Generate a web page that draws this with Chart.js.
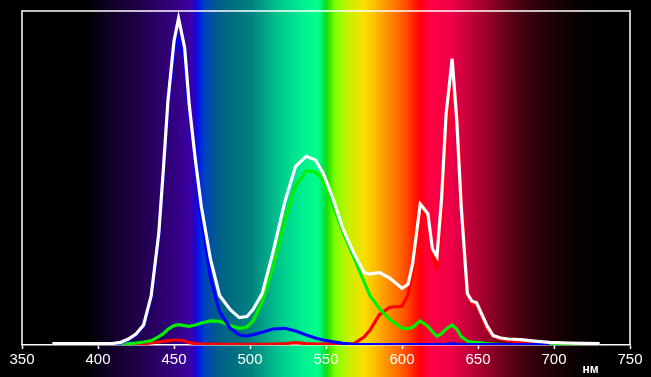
<!DOCTYPE html>
<html>
<head>
<meta charset="utf-8">
<script src="https://cdn.jsdelivr.net/npm/chart.js@4"></script>
<style>
  html, body { margin: 0; padding: 0; background: #000; }
  #wrap { width: 651px; height: 377px; }
</style>
</head>
<body>
<div id="wrap"><canvas id="spectrum"></canvas></div>
<script>
// wavelength, nm
const wavelengths = [370, 380, 390, 400, 410, 415, 420, 425, 430, 435, 440, 443, 446, 450, 453, 457, 460, 464, 468, 474,
  480, 487, 493, 498, 502, 508, 515, 523, 530, 537, 543, 548, 554, 561, 568, 575, 579, 585, 592, 600,
  604, 607, 612, 617, 620, 623, 626, 629, 633, 636, 639, 643, 646, 649, 656, 660, 665, 670, 678, 689,
  697, 710, 720, 730];

const whiteVals = [0.4, 0.4, 0.4, 0.4, 0.5, 0.8, 1.8, 3.3, 6, 14.8, 33.5, 52.6, 73, 91, 97.8, 89, 72, 55.6, 41.4, 25.7,
  14.8, 10.6, 8.2, 8.5, 10.6, 15.4, 27.5, 43, 53.5, 56.5, 55.4, 51.6, 44.6, 35, 27.8, 21.7, 21.2, 21.7, 20, 17,
  18.2, 24.3, 42.2, 39.3, 28.8, 26.5, 43.6, 69, 85.7, 67.6, 41, 15.4, 13.1, 12.7, 5.7, 2.8, 2.1, 1.8, 1.6, 1.1,
  0.8, 0.6, 0.5, 0.4];

const greenVals = [0.1, 0.1, 0.1, 0.1, 0.1, 0.2, 0.4, 0.6, 0.9, 1.3, 2.5, 3.4, 4.7, 5.8, 6.1, 5.8, 5.6, 6.0, 6.6, 7.2,
  7.1, 5.8, 5.0, 5.4, 7.2, 13, 23, 37.5, 47.5, 52.2, 51.8, 49.5, 42.5, 34, 26.5, 19, 14.7, 11, 7.6, 5,
  4.9, 5.3, 7.2, 5.6, 4, 2.6, 3.4, 4.8, 6, 4.8, 2.5, 1.2, 0.9, 0.8, 0.4, 0.3, 0.2, 0.1, 0.1, 0.1,
  0.1, 0.1, 0.1, 0.1];

const blueVals = [0.2, 0.2, 0.2, 0.2, 0.3, 0.6, 1.5, 3, 5.7, 14, 32.5, 51.5, 71.5, 87, 92, 85, 70, 54, 38, 20,
  10, 5, 3, 2.7, 3.1, 3.8, 4.8, 5, 4.2, 3, 2.1, 1.5, 1, 0.5, 0.2, 0.15, 0.15, 0.15, 0.15, 0.15,
  0.15, 0.15, 0.15, 0.15, 0.15, 0.15, 0.15, 0.2, 0.4, 0.2, 0.15, 0.15, 0.15, 0.15, 0.15, 0.15, 0.15, 0.15, 0.15, 0.15,
  0.15, null, null, null];

const redVals = [0.1, 0.1, 0.1, 0.1, 0.1, 0.1, 0.2, 0.3, 0.4, 0.6, 0.9, 1.1, 1.3, 1.5, 1.5, 1.2, 0.7, 0.4, 0.3, 0.3,
  0.2, 0.2, 0.2, 0.2, 0.2, 0.2, 0.3, 0.4, 0.7, 0.4, 0.3, 0.3, 0.3, 0.3, 0.3, 2.4, 4.5, 9, 11.3, 11.6,
  15, 22, 41, 37.5, 26.5, 23.5, 37.8, 62, 83.5, 70, 45, 15.2, 12.4, 12.2, 4.6, 2.6, 1.8, 1.3, 0.9, 0.6,
  0.4, 0.3, 0.2, 0.2];

const xTicks = { min: 350, max: 750, step: 50 };
const unitLabel = 'нм';

// background spectrum colours [nm, colour]
const spectrumStops = [
  [350, '#000000'], [392, '#000000'], [410, '#12002a'], [430, '#220050'], [450, '#330080'],
  [460, '#3a00a0'], [464, '#2a00c8'], [466, '#0018f0'], [470, '#0040c0'], [478, '#005c8c'],
  [490, '#006f80'], [500, '#008080'], [510, '#00a488'], [522, '#00d08e'], [535, '#00f090'],
  [545, '#00ff88'], [549, '#00e040'], [551, '#20e000'], [556, '#80ff00'], [565, '#c8f000'],
  [575, '#f8e000'], [583, '#ffb800'], [592, '#ff8800'], [602, '#ff5000'], [608, '#ff2000'],
  [612, '#ff0010'], [618, '#ff0040'], [632, '#f00048'], [645, '#c00038'], [660, '#880024'],
  [675, '#500012'], [690, '#2c0008'], [705, '#140002'], [722, '#060000'], [740, '#000000'],
  [750, '#000000']
];

const toPoints = vals => wavelengths.map((w, i) => ({ x: w, y: vals[i] }));

const spectrumBg = {
  id: 'spectrumBg',
  beforeDraw(chart) {
    const { ctx, width, height } = chart;
    const xs = chart.scales.x;
    const x0 = xs.getPixelForValue(xTicks.min);
    const x1 = xs.getPixelForValue(xTicks.max);
    const g = ctx.createLinearGradient(x0, 0, x1, 0);
    spectrumStops.forEach(([nm, c]) => g.addColorStop((nm - xTicks.min) / (xTicks.max - xTicks.min), c));
    ctx.save();
    ctx.fillStyle = '#000';
    ctx.fillRect(0, 0, width, height);
    ctx.fillStyle = g;
    ctx.fillRect(0, 0, width, height);
    ctx.restore();
  },
  afterDraw(chart) {
    const { ctx, chartArea: a } = chart;
    ctx.save();
    ctx.strokeStyle = '#fff';
    ctx.lineWidth = 1.5;
    ctx.beginPath();
    ctx.moveTo(a.left, a.bottom);
    ctx.lineTo(a.left, a.top);
    ctx.lineTo(a.right, a.top);
    ctx.lineTo(a.right, a.bottom);
    ctx.stroke();
    ctx.fillStyle = '#fff';
    ctx.font = 'bold 12px "Liberation Sans", Arial, sans-serif';
    ctx.textAlign = 'center';
    ctx.textBaseline = 'middle';
    ctx.fillText(unitLabel, chart.scales.x.getPixelForValue(724), 370);
    ctx.restore();
  }
};

const line = (vals, color) => ({
  data: toPoints(vals),
  borderColor: color,
  borderWidth: 3.2,
  pointRadius: 0,
  tension: 0,
  fill: false
});

new Chart(document.getElementById('spectrum'), {
  type: 'line',
  data: {
    datasets: [
      line(whiteVals, '#ffffff'),
      line(blueVals, '#0000ff'),
      line(greenVals, '#00f000'),
      line(redVals, '#ff0000')
    ]
  },
  options: {
    responsive: true,
    maintainAspectRatio: false,
    animation: false,
    layout: { padding: { left: 22, right: 21, top: 11, bottom: 6 } },
    plugins: { legend: { display: false }, tooltip: { enabled: false } },
    scales: {
      x: {
        type: 'linear',
        min: xTicks.min,
        max: xTicks.max,
        ticks: {
          stepSize: xTicks.step,
          color: '#fff',
          padding: 2,
          maxRotation: 0,
          font: { family: '"Liberation Sans", Arial, sans-serif', size: 15 }
        },
        grid: { drawOnChartArea: false, tickLength: 4, color: '#fff', tickWidth: 1.5 },
        border: { color: '#fff', width: 1.5 }
      },
      y: { display: false, min: 0, max: 100 }
    }
  },
  plugins: [spectrumBg]
});
</script>
</body>
</html>
